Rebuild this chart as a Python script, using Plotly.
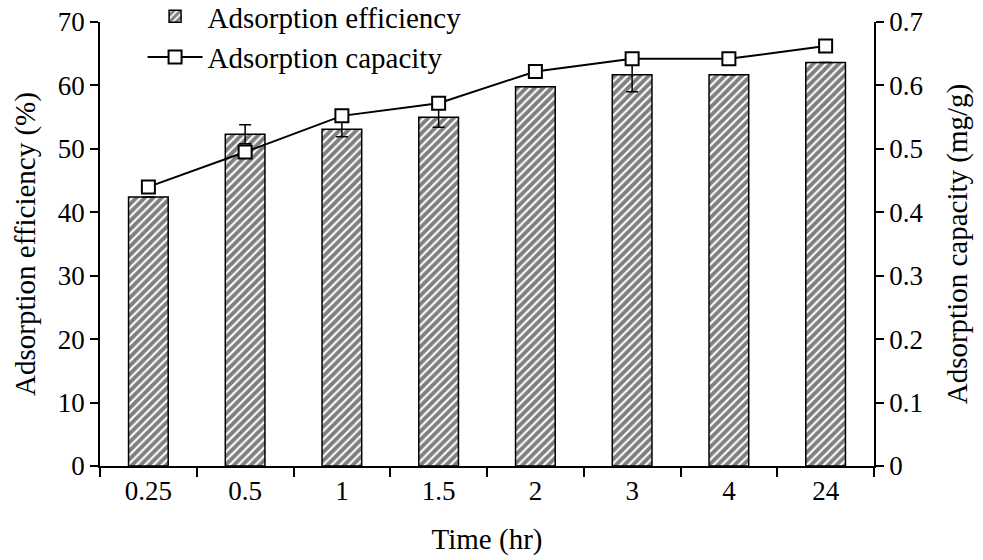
import plotly.graph_objects as go

# Contact time categories and measured series
time_labels = ["0.25", "0.5", "1", "1.5", "2", "3", "4", "24"]
efficiency = [42.4, 52.3, 53.1, 55.0, 59.8, 61.7, 61.7, 63.6]        # %
efficiency_err = [0.0, 1.5, 1.2, 1.6, 0.0, 2.7, 0.0, 0.0]           # %
capacity = [0.44, 0.495, 0.552, 0.572, 0.622, 0.642, 0.642, 0.662]  # mg/g

FONT = "Liberation Serif, Times New Roman, serif"
FS_TICK = 27
FS_TITLE = 29

fig = go.Figure()

fig.add_trace(go.Bar(
    x=time_labels,
    y=efficiency,
    name="Adsorption efficiency",
    legendgroup="eff",
    width=0.41,
    marker=dict(
        color="white",
        line=dict(color="black", width=1.5),
        pattern=dict(shape="/", fgcolor="black", bgcolor="white",
                     size=6, solidity=0.65),
    ),
    error_y=dict(type="data", array=efficiency_err, visible=True,
                 color="black", thickness=1.5, width=6),
    yaxis="y",
))

fig.add_trace(go.Scatter(
    x=time_labels,
    y=capacity,
    name="Adsorption capacity",
    legendgroup="cap",
    mode="lines+markers",
    line=dict(color="black", width=2),
    marker=dict(symbol="square", size=13, color="white",
                line=dict(color="black", width=2)),
    yaxis="y2",
))

fig.update_layout(
    width=983,
    height=560,
    margin=dict(l=100, r=109, t=22, b=94, autoexpand=False),
    paper_bgcolor="white",
    plot_bgcolor="white",
    font=dict(family=FONT, size=FS_TICK, color="black"),
    showlegend=True,
    legend=dict(
        x=0.055, y=1.07, xanchor="left", yanchor="top",
        bgcolor="rgba(0,0,0,0)",
        font=dict(family=FONT, size=FS_TITLE, color="black"),
        traceorder="grouped",
        tracegroupgap=0,
        itemwidth=55,
    ),
    bargap=0.59,
    xaxis=dict(
        type="category",
        showline=True, linecolor="black", linewidth=1.5,
        ticks="outside", ticklen=9, tickwidth=1.5, tickcolor="black",
        tickson="boundaries",
        showgrid=False, zeroline=False,
        tickfont=dict(family=FONT, size=FS_TICK),
        title=dict(text="Time (hr)", font=dict(family=FONT, size=FS_TITLE), standoff=24),
    ),
    yaxis=dict(
        range=[0, 70], dtick=10,
        showline=True, linecolor="black", linewidth=1.5,
        ticks="outside", ticklen=8, tickwidth=1.5, tickcolor="black",
        showgrid=False, zeroline=False,
        tickfont=dict(family=FONT, size=FS_TICK),
        title=dict(text="Adsorption efficiency (%)", font=dict(family=FONT, size=FS_TITLE), standoff=14),
    ),
    yaxis2=dict(
        range=[0, 0.7], dtick=0.1,
        overlaying="y", side="right",
        showline=True, linecolor="black", linewidth=1.5,
        ticks="outside", ticklen=8, tickwidth=1.5, tickcolor="black",
        showgrid=False, zeroline=False,
        tickfont=dict(family=FONT, size=FS_TICK),
        title=dict(text="Adsorption capacity (mg/g)", font=dict(family=FONT, size=FS_TITLE), standoff=24),
    ),
)

fig.write_html("out.html")
